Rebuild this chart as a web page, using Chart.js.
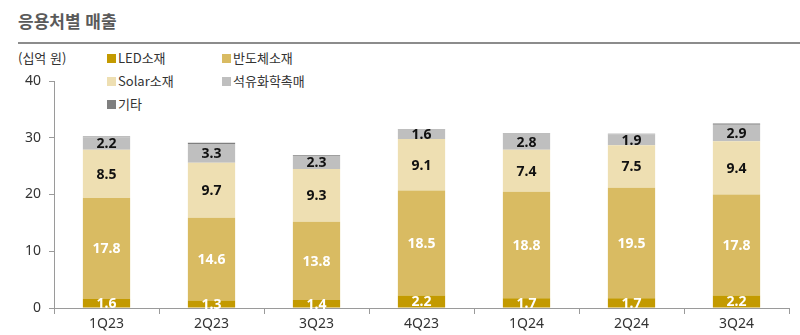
<!DOCTYPE html>
<html lang="ko">
<head>
  <meta charset="UTF-8" />
  <title>응용처별 매출</title>
  <script src="https://cdn.jsdelivr.net/npm/chart.js"></script>
  <style>
    body { margin: 0; background: #fff; font-family: 'Noto Sans CJK KR', 'Noto Sans', sans-serif; }
    .wrap { position: relative; width: 800px; height: 335px; overflow: hidden; }
    .title { position: absolute; left: 18px; top: 8px; font-size: 17px; font-weight: bold; color: #5a5a5a; }
    .rule { position: absolute; left: 18px; right: 0; top: 42px; border-top: 2px solid #8c8c8c; }
    .unit { position: absolute; left: 18px; top: 48px; font-size: 13px; color: #333; }
    .legend { position: absolute; left: 107px; top: 48px; display: grid; grid-template-columns: 115px 120px; row-gap: 4px; }
    .legend div { font-size: 13px; color: #333; height: 19px; line-height: 19px; }
    .legend span { display: inline-block; width: 9px; height: 9px; margin-right: 2px; vertical-align: 0px; }
    canvas { position: absolute; left: 0; top: 0; }
  </style>
</head>
<body>
<div class="wrap">
  <div class="title">응용처별 매출</div>
  <div class="rule"></div>
  <div class="unit">(십억 원)</div>
  <div class="legend" id="legend"></div>
  <canvas id="chart" width="800" height="335"></canvas>
</div>

<script>
  // quarterly sales by application (KRW bn)
  const quarters = ['1Q23', '2Q23', '3Q23', '4Q23', '1Q24', '2Q24', '3Q24'];
  const led = [1.6, 1.3, 1.4, 2.2, 1.7, 1.7, 2.2];
  const semi = [17.8, 14.6, 13.8, 18.5, 18.8, 19.5, 17.8];
  const solar = [8.5, 9.7, 9.3, 9.1, 7.4, 7.5, 9.4];
  const petchem = [2.2, 3.3, 2.3, 1.6, 2.8, 1.9, 2.9];
  const other = [0.1, 0.2, 0.1, 0.1, 0.1, 0.1, 0.2];
  const yTicks = [0, 10, 20, 30, 40];

  const series = [
    { label: 'LED소재', data: led, color: '#c39a00', text: '#fff' },
    { label: '반도체소재', data: semi, color: '#d9bb62', text: '#fff' },
    { label: 'Solar소재', data: solar, color: '#eedfb2', text: '#111' },
    { label: '석유화학촉매', data: petchem, color: '#bfbfbf', text: '#111' },
    { label: '기타', data: other, color: '#7f7f7f', text: null }
  ];

  // legend laid out as two columns
  const legend = document.getElementById('legend');
  series.forEach(s => {
    const item = document.createElement('div');
    item.innerHTML = `<span style="background:${s.color}"></span>${s.label}`;
    legend.appendChild(item);
  });

  // value labels centred in each segment
  const segmentLabels = {
    id: 'segmentLabels',
    afterDatasetsDraw(chart) {
      const ctx = chart.ctx;
      ctx.save();
      ctx.font = 'bold 14px "Noto Sans", sans-serif';
      ctx.textAlign = 'center';
      ctx.textBaseline = 'middle';
      chart.data.datasets.forEach((ds, i) => {
        if (!ds.labelColor) return;
        chart.getDatasetMeta(i).data.forEach((bar, j) => {
          const p = bar.getProps(['x', 'y', 'base'], true);
          ctx.fillStyle = ds.labelColor;
          ctx.fillText(ds.data[j].toFixed(1), p.x, (p.y + p.base) / 2 + 1);
        });
      });
      ctx.restore();
    }
  };

  new Chart(document.getElementById('chart'), {
    type: 'bar',
    data: {
      labels: quarters,
      datasets: series.map(s => ({
        label: s.label,
        data: s.data,
        backgroundColor: s.color,
        labelColor: s.text,
        categoryPercentage: 1,
        barPercentage: 0.45
      }))
    },
    options: {
      responsive: false,
      animation: false,
      layout: { padding: { top: 81, right: 11, left: 0, bottom: 0 } },
      plugins: { legend: { display: false }, tooltip: { enabled: false } },
      scales: {
        x: {
          stacked: true,
          border: { color: '#9a9a9a', width: 1 },
          grid: { offset: true, drawOnChartArea: false, tickLength: 6, color: '#9a9a9a' },
          ticks: { color: '#333', font: { size: 14, family: 'Noto Sans' }, padding: 2 },
          afterFit(scale) { scale.height = 27; }
        },
        y: {
          stacked: true,
          min: 0,
          max: 40,
          border: { color: '#9a9a9a', width: 1 },
          grid: { drawOnChartArea: false, tickLength: 5, color: '#9a9a9a' },
          afterBuildTicks(scale) { scale.ticks = yTicks.map(v => ({ value: v })); },
          ticks: { color: '#333', font: { size: 14, family: 'Noto Sans' }, padding: 8 },
          afterFit(scale) { scale.width = 54; }
        }
      }
    },
    plugins: [segmentLabels]
  });
</script>
</body>
</html>
